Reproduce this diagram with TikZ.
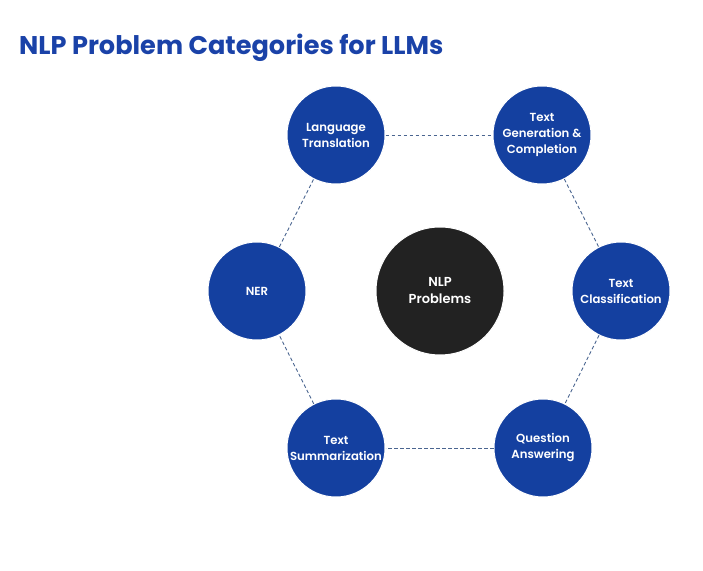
\documentclass[tikz,border=0pt]{standalone}
\usepackage{fontspec}
\setmainfont{Poppins}[BoldFont={Poppins SemiBold}]
\newfontfamily\titlefont{Poppins}
\definecolor{cblue}{HTML}{1440A0}
\definecolor{cdark}{HTML}{222222}
\definecolor{cline}{HTML}{4A6590}
\definecolor{ctitle}{HTML}{1A42A8}
\begin{document}
\begin{tikzpicture}[x=1pt,y=1pt,
  cat/.style={circle,fill=cblue,draw=white,line width=1pt,minimum size=98pt,inner sep=0pt,text=white,font=\fontsize{11.7}{16}\selectfont\bfseries,align=center},
  hub/.style={circle,fill=cdark,draw=white,line width=1pt,minimum size=128pt,inner sep=0pt,text=white,font=\fontsize{13}{17}\selectfont\bfseries,align=center},
  link/.style={draw=cline,dashed,dash pattern=on 3.5pt off 2.5pt,line width=0.9pt}]
\useasboundingbox (0,0) rectangle (703,570);
\node[anchor=base west,text=ctitle,font=\titlefont\fontsize{25.6}{30}\selectfont\bfseries,inner sep=0pt] (title) at (19,515) {NLP Problem Categories for LLMs};
\node[cat] (lt) at (336,435) {Language\\Translation};
\node[cat] (tg) at (542,435) {Text\\Generation \&\\Completion};
\node[cat] (ner) at (257,279) {NER};
\node[hub] (nlp) at (440,279) {NLP\\Problems};
\node[cat] (tc) at (621,279) {Text\\Classification};
\node[cat] (ts) at (336,122) {Text\\Summarization};
\node[cat] (qa) at (543,122) {Question\\Answering};
\draw[link] (lt) -- (tg);
\draw[link] (tg) -- (tc);
\draw[link] (tc) -- (qa);
\draw[link] (qa) -- (ts);
\draw[link] (ts) -- (ner);
\draw[link] (ner) -- (lt);
\end{tikzpicture}
\end{document}
